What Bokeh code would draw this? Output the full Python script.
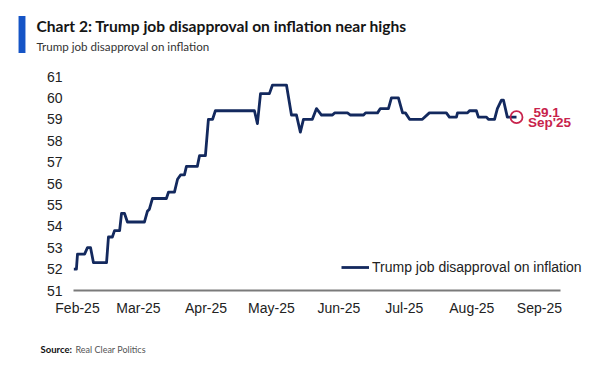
import pandas as pd
from bokeh.plotting import figure
from bokeh.models import (Range1d, FixedTicker, DatetimeTickFormatter, Legend, LegendItem,
                          Label)
from bokeh.embed import file_html
from bokeh.resources import INLINE

# ---- data ----
dates = ["2025-01-30 06:00", "2025-01-31 12:00", "2025-02-01 00:00", "2025-02-04 06:00",
         "2025-02-05 14:00", "2025-02-07 00:00", "2025-02-08 08:00", "2025-02-14 08:00",
         "2025-02-15 05:00", "2025-02-17 00:00", "2025-02-18 00:00", "2025-02-20 08:00",
         "2025-02-21 05:00", "2025-02-22 14:00", "2025-02-23 22:00", "2025-03-03 17:00",
         "2025-03-05 02:00", "2025-03-06 00:00", "2025-03-07 10:00", "2025-03-13 19:00",
         "2025-03-14 19:00", "2025-03-17 12:00", "2025-03-18 22:00", "2025-03-20 07:00",
         "2025-03-22 02:00", "2025-03-23 00:00", "2025-03-28 00:00", "2025-03-29 00:00",
         "2025-03-31 17:00", "2025-04-02 02:00", "2025-04-04 00:00", "2025-04-05 07:00",
         "2025-04-23 05:00", "2025-04-24 14:00", "2025-04-26 00:00", "2025-04-30 02:00",
         "2025-05-01 12:00", "2025-05-07 22:00", "2025-05-10 05:00", "2025-05-12 12:00",
         "2025-05-14 07:00", "2025-05-15 17:00", "2025-05-19 19:00", "2025-05-21 17:00",
         "2025-05-24 00:00", "2025-05-29 00:00", "2025-05-30 00:00", "2025-06-04 22:00",
         "2025-06-06 07:00", "2025-06-12 07:00", "2025-06-13 05:00", "2025-06-18 17:00",
         "2025-06-20 00:00", "2025-06-23 17:00", "2025-06-25 02:00", "2025-06-28 07:00",
         "2025-06-30 05:00", "2025-07-01 12:00", "2025-07-03 10:00", "2025-07-09 07:00",
         "2025-07-12 12:00", "2025-07-20 07:00", "2025-07-21 17:00", "2025-07-24 22:00",
         "2025-07-25 10:00", "2025-07-30 00:00", "2025-07-30 22:00", "2025-08-03 02:00",
         "2025-08-04 00:00", "2025-08-07 17:00", "2025-08-08 14:00", "2025-08-11 10:00",
         "2025-08-12 17:00", "2025-08-14 14:00", "2025-08-15 12:00", "2025-08-17 07:00",
         "2025-08-21 12:00"]
disapproval = [52.0, 52.0, 52.7, 52.7,
               53.0, 53.0, 52.3, 52.3,
               53.5, 53.5, 53.8, 53.8,
               54.6, 54.6, 54.2, 54.2,
               54.7, 54.8, 55.3, 55.3,
               55.6, 55.6, 56.2, 56.4,
               56.4, 56.8, 56.8, 57.3,
               57.3, 59.0, 59.0, 59.4,
               59.4, 58.8, 60.2, 60.2,
               60.6, 60.6, 59.2, 59.2,
               58.4, 59.0, 59.0, 59.5,
               59.2, 59.2, 59.3, 59.3,
               59.2, 59.2, 59.3, 59.3,
               59.5, 59.5, 60.0, 60.0,
               59.3, 59.3, 59.0, 59.0,
               59.3, 59.3, 59.1, 59.1,
               59.3, 59.3, 59.4, 59.4,
               59.1, 59.1, 59.0, 59.0,
               59.5, 59.9, 59.9, 59.1,
               59.1]
month_ticks = ["2025-02-01", "2025-03-01", "2025-04-01", "2025-05-01",
               "2025-06-01", "2025-07-01", "2025-08-01", "2025-09-01"]
y_ticks = [51, 52, 53, 54, 55, 56, 57, 58, 59, 60, 61]
series_name = "Trump job disapproval on inflation"
last_value_text = "59.1"
last_date_text = "Sep'25"
title_text = "Chart 2: Trump job disapproval on inflation near highs"
subtitle_text = "Trump job disapproval on inflation"
source_label = "Source:"
source_text = "Real Clear Politics"

NAVY = "#13295e"
CRIMSON = "#c8234c"
BLUE = "#1554c6"
AXIS_FONT = "Liberation Sans"
HEAD_FONT = "Lato"
W, H = 600, 368
LEFT, RIGHT, TOP, BOTTOM = 73, 10, 76, 78   # canvas borders around the plot frame

x = pd.to_datetime(dates, format="%Y-%m-%d %H:%M")
p = figure(width=W, height=H, x_axis_type="datetime",
           x_range=Range1d(pd.Timestamp("2025-01-30 04:00"), pd.Timestamp("2025-09-24 11:00")),
           y_range=Range1d(51, 61),
           output_backend="svg", toolbar_location=None,
           min_border_left=LEFT, min_border_right=RIGHT, min_border_top=TOP,
           min_border_bottom=BOTTOM)
p.outline_line_color = None
p.xgrid.visible = False
p.ygrid.visible = False
# pixel-based ranges for placing header/footer items (canvas pixels, y downwards)
p.extra_x_ranges = {"px": Range1d(LEFT, W - RIGHT)}
p.extra_y_ranges = {"px": Range1d(H - BOTTOM, TOP)}

r = p.line(x, disapproval, line_color=NAVY, line_width=2.8, line_join="round")

p.scatter([x[-1]], [disapproval[-1]], marker="circle", size=12, fill_color=None,
          line_color=CRIMSON, line_width=1.8)
p.add_layout(Label(x=x[-1], y=disapproval[-1], text=last_value_text, x_offset=30, y_offset=5,
                   text_align="center", text_baseline="middle", text_color=CRIMSON,
                   text_font=AXIS_FONT, text_font_style="bold", text_font_size="13.5px"))
p.add_layout(Label(x=x[-1], y=disapproval[-1], text=last_date_text, x_offset=33, y_offset=-5,
                   text_align="center", text_baseline="middle", text_color=CRIMSON,
                   text_font=AXIS_FONT, text_font_style="bold", text_font_size="13.5px"))

tick_ms = [pd.Timestamp(t).timestamp() * 1000 for t in month_ticks]
p.xaxis.ticker = FixedTicker(ticks=tick_ms)
fmt = "%b-%y"
p.xaxis.formatter = DatetimeTickFormatter(years=fmt, months=fmt, days=fmt, hours=fmt,
                                          minutes=fmt, seconds=fmt, milliseconds=fmt,
                                          microseconds=fmt, minsec=fmt, hourmin=fmt)
p.xaxis.bounds = (pd.Timestamp("2025-01-30 04:00").timestamp() * 1000,
                  pd.Timestamp("2025-09-10 17:00").timestamp() * 1000)
p.xaxis.axis_line_color = "#7a7a7a"
p.xaxis.axis_line_width = 2
p.axis.major_tick_line_color = None
p.axis.minor_tick_line_color = None
p.axis.major_tick_out = 0
p.axis.major_tick_in = 0
p.axis.minor_tick_out = 0
p.axis.minor_tick_in = 0
p.xaxis.major_label_standoff = 9
p.xaxis.major_label_text_font = AXIS_FONT
p.xaxis.major_label_text_font_size = "14px"
p.xaxis.major_label_text_color = "#222222"

p.yaxis.ticker = FixedTicker(ticks=y_ticks)
p.yaxis.axis_line_color = None
p.yaxis.major_label_standoff = 11
p.yaxis.major_label_text_font = AXIS_FONT
p.yaxis.major_label_text_font_size = "14px"
p.yaxis.major_label_text_color = "#222222"

legend = Legend(items=[LegendItem(label=series_name, renderers=[r])], location=(268, 15),
                glyph_width=28, glyph_height=14, label_standoff=3, padding=0, margin=0,
                spacing=0, border_line_color=None, background_fill_alpha=0,
                label_text_font=AXIS_FONT, label_text_font_size="14px",
                label_text_color="#222222", label_height=14)
p.add_layout(legend)

# ---- header (side-panel annotations are not clipped to the frame) ----
p.add_layout(Label(x=36, y=45.5, x_range_name="px", y_range_name="px", text=subtitle_text,
                   text_font=HEAD_FONT, text_font_size="11.6px", text_color="#333333",
                   text_baseline="alphabetic"), "above")
p.add_layout(Label(x=36, y=25, x_range_name="px", y_range_name="px", text=title_text,
                   text_font=HEAD_FONT, text_font_style="bold", text_font_size="15.6px",
                   text_color="#151515", text_baseline="alphabetic"), "above")
# blue accent bar: a blank label whose background forms the bar
p.add_layout(Label(x=21.5, y=34, x_range_name="px", y_range_name="px", text=" ",
                   text_font=HEAD_FONT, text_font_size="27px", text_align="center",
                   text_baseline="middle", background_fill_color=BLUE,
                   background_fill_alpha=1, padding=(0, 0, 2, 2)), "left")

# ---- footer ----
p.add_layout(Label(x=40, y=349, x_range_name="px", y_range_name="px", text=source_label,
                   text_font=HEAD_FONT, text_font_style="bold", text_font_size="9.5px",
                   text_color="#111111", text_baseline="alphabetic"), "below")
p.add_layout(Label(x=75, y=349, x_range_name="px", y_range_name="px", text=source_text,
                   text_font=HEAD_FONT, text_font_size="9px", text_color="#555555",
                   text_baseline="alphabetic"), "below")

open("out.html", "w").write(file_html(p, INLINE))
